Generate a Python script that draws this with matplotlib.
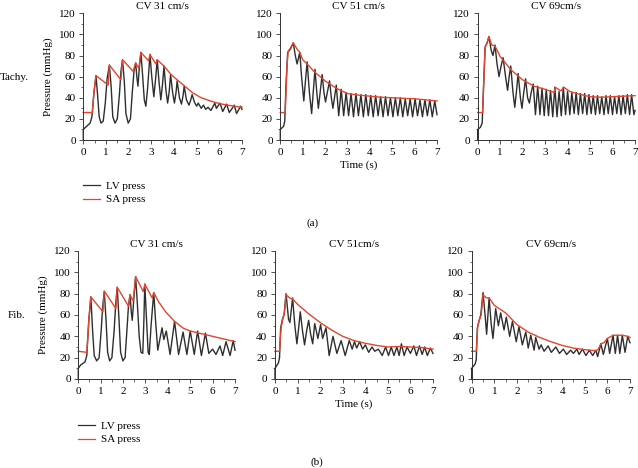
import matplotlib
matplotlib.use('Agg')
import matplotlib.pyplot as plt
from matplotlib.ticker import MultipleLocator
from matplotlib.lines import Line2D

plt.rcParams['font.family'] = ['Liberation Serif', 'DejaVu Serif']
plt.rcParams['font.size'] = 8

# (time s, pressure mmHg)
tachy31_lv = [(0, 0), (0, 10), (0.1, 12), (0.3, 16), (0.38, 22), (0.47, 45), (0.56, 61), (0.64, 40),
              (0.7, 22), (0.78, 16), (0.88, 18), (0.97, 35), (1.05, 58), (1.15, 71), (1.23, 50),
              (1.3, 22), (1.4, 16), (1.5, 20), (1.6, 45), (1.66, 65), (1.73, 76), (1.81, 55),
              (1.88, 25), (1.98, 16), (2.08, 20), (2.16, 45), (2.24, 66), (2.31, 73), (2.36, 60),
              (2.41, 51), (2.47, 68), (2.54, 83), (2.62, 60), (2.69, 38), (2.76, 32), (2.84, 50),
              (2.94, 81), (3.02, 60), (3.11, 41), (3.19, 58), (3.26, 76), (3.34, 55), (3.42, 38),
              (3.49, 52), (3.56, 70), (3.64, 48), (3.72, 35), (3.79, 46), (3.85, 62), (3.94, 45),
              (4.02, 35), (4.09, 45), (4.14, 56), (4.24, 40), (4.33, 34), (4.4, 42), (4.45, 51),
              (4.55, 38), (4.66, 33), (4.74, 38), (4.8, 43), (4.9, 36), (5.0, 32), (5.07, 35),
              (5.2, 30), (5.3, 33), (5.4, 29), (5.5, 31), (5.63, 28), (5.8, 35), (5.87, 30),
              (6.03, 35), (6.15, 27), (6.32, 34), (6.44, 26), (6.66, 33), (6.76, 25), (6.94, 32),
              (7.0, 29)]
tachy31_sa = [(0, 26), (0.4, 26), (0.47, 45), (0.56, 61), (1.1, 52), (1.15, 71), (1.66, 57),
              (1.73, 76), (2.2, 65), (2.31, 73), (2.45, 68), (2.54, 83), (2.88, 75), (2.94, 81),
              (3.2, 72), (3.26, 76), (3.56, 70), (3.85, 62.5), (4.14, 57), (4.45, 51.5), (4.8, 45),
              (5.2, 40), (5.6, 37), (6.0, 34.5), (6.5, 32.5), (7.0, 31)]

tachy51_lv = [(0, 0), (0, 10), (0.15, 13), (0.2, 18), (0.25, 50), (0.33, 83), (0.45, 86), (0.58, 92),
              (0.67, 80), (0.75, 72), (0.87, 83), (0.95, 60), (1.05, 37), (1.12, 55), (1.2, 74),
              (1.3, 45), (1.4, 25), (1.47, 45), (1.55, 67), (1.63, 45), (1.7, 30), (1.78, 45),
              (1.87, 62), (1.95, 45), (2.02, 36), (2.1, 45), (2.2, 56), (2.28, 40), (2.35, 30),
              (2.42, 40), (2.5, 52), (2.61, 23), (2.72, 48), (2.83, 23), (2.94, 45), (3.05, 23),
              (3.16, 44), (3.27, 22), (3.38, 44), (3.49, 23), (3.60, 43), (3.71, 22), (3.82, 43),
              (3.93, 23), (4.04, 42), (4.15, 22), (4.26, 42), (4.37, 23), (4.48, 41), (4.59, 22),
              (4.70, 41), (4.81, 23), (4.92, 40), (5.03, 22), (5.14, 40), (5.25, 23), (5.36, 40),
              (5.47, 22), (5.58, 39), (5.69, 23), (5.80, 39), (5.91, 22), (6.02, 39), (6.13, 23),
              (6.24, 38), (6.35, 22), (6.46, 38), (6.57, 23), (6.68, 38), (6.79, 22), (6.90, 37),
              (7.0, 24)]
tachy51_sa = [(0, 26), (0.22, 26), (0.3, 70), (0.35, 84), (0.45, 87), (0.58, 92), (0.75, 86),
              (0.87, 83), (1.0, 76), (1.2, 72), (1.5, 65), (2.0, 56), (2.5, 49), (3.0, 44),
              (3.5, 42.5), (4.0, 41.5), (4.5, 40.5), (5.0, 40), (5.5, 39.5), (6.0, 39), (6.5, 38),
              (7.0, 37)]

tachy69_lv = [(0, 0), (0, 10), (0.12, 12), (0.2, 16), (0.25, 45), (0.33, 88), (0.42, 92), (0.5, 98),
              (0.6, 85), (0.68, 80), (0.77, 90), (0.86, 72), (0.95, 60), (1.04, 70), (1.13, 78),
              (1.24, 60), (1.33, 47), (1.4, 60), (1.47, 70), (1.57, 45), (1.65, 31), (1.72, 45),
              (1.8, 63), (1.9, 40), (1.97, 30), (2.05, 45), (2.13, 58), (2.22, 40), (2.3, 35),
              (2.38, 45), (2.47, 53), (2.57, 24), (2.67, 51), (2.77, 24), (2.86, 49), (2.96, 23),
              (3.05, 48), (3.15, 23), (3.24, 47), (3.34, 22), (3.43, 50), (3.53, 22), (3.62, 46),
              (3.72, 23), (3.81, 50), (3.91, 24), (4.0, 46), (4.1, 24), (4.19, 45), (4.29, 25),
              (4.38, 45), (4.48, 24), (4.57, 44), (4.67, 25), (4.76, 44), (4.86, 24), (4.95, 43),
              (5.05, 25), (5.14, 42), (5.24, 24), (5.33, 42), (5.43, 25), (5.52, 41), (5.62, 24),
              (5.71, 42), (5.81, 25), (5.9, 42), (6.0, 24), (6.09, 41), (6.19, 25), (6.28, 42),
              (6.38, 24), (6.47, 42), (6.57, 25), (6.66, 43), (6.76, 24), (6.85, 43), (6.95, 24),
              (7.0, 28)]
tachy69_sa = [(0, 26), (0.22, 26), (0.28, 60), (0.33, 88), (0.42, 92), (0.5, 98), (0.62, 90),
              (0.77, 89), (1.0, 79), (1.5, 66), (2.0, 57), (2.5, 51), (3.0, 48), (3.4, 45),
              (3.45, 50), (3.7, 46.5), (3.83, 50), (4.1, 46), (4.5, 43.5), (5.0, 41), (5.5, 40.5),
              (6.0, 41), (6.5, 41.5), (7.0, 42)]

fib31_lv = [(0, 0), (0, 10), (0.1, 13), (0.3, 16), (0.38, 22), (0.47, 55), (0.56, 77), (0.64, 45),
            (0.71, 22), (0.82, 17), (0.93, 20), (1.02, 45), (1.09, 68), (1.16, 82), (1.24, 55),
            (1.31, 25), (1.4, 17), (1.5, 20), (1.6, 45), (1.67, 70), (1.74, 86), (1.82, 55),
            (1.89, 25), (1.99, 17), (2.09, 20), (2.17, 45), (2.24, 68), (2.31, 79), (2.37, 62),
            (2.41, 55), (2.48, 75), (2.56, 96), (2.64, 70), (2.72, 40), (2.8, 25), (2.88, 24),
            (2.93, 55), (2.97, 89), (3.05, 55), (3.12, 25), (3.17, 23), (3.25, 50), (3.37, 81),
            (3.45, 55), (3.55, 27), (3.74, 48), (3.82, 37), (3.93, 45), (4.1, 23), (4.3, 54),
            (4.48, 23), (4.68, 44), (4.85, 23), (5.0, 45), (5.18, 23), (5.33, 45), (5.5, 22),
            (5.68, 43), (5.83, 24), (6.0, 28), (6.15, 23), (6.33, 31), (6.45, 22), (6.6, 35),
            (6.78, 22), (6.92, 36), (7.0, 27)]
fib31_sa = [(0, 26), (0.38, 25), (0.47, 55), (0.56, 77), (1.1, 63), (1.16, 82.5), (1.68, 66),
            (1.74, 86), (2.25, 68), (2.31, 79), (2.45, 73), (2.56, 96), (2.9, 82), (2.97, 89),
            (3.3, 76), (3.37, 81), (3.6, 72), (3.9, 63), (4.3, 54), (4.7, 47.5), (5.0, 45),
            (5.5, 42.5), (6.0, 40), (6.5, 37.5), (7.0, 35)]

fib51_lv = [(0, 0), (0, 10), (0.15, 15), (0.2, 20), (0.25, 48), (0.33, 56), (0.4, 60), (0.49, 80),
            (0.6, 56), (0.66, 53), (0.78, 76), (0.88, 50), (0.97, 33), (1.05, 48), (1.12, 63),
            (1.22, 45), (1.31, 32), (1.4, 45), (1.49, 55), (1.58, 42), (1.67, 33), (1.76, 52),
            (1.9, 38), (2.02, 51), (2.11, 38), (2.26, 48), (2.4, 22), (2.57, 40), (2.74, 24),
            (2.93, 36), (3.11, 22), (3.29, 36), (3.42, 28), (3.52, 35), (3.62, 29), (3.75, 35),
            (3.88, 28), (4.0, 32), (4.15, 25), (4.3, 30), (4.42, 26), (4.58, 28), (4.75, 22),
            (4.9, 30), (5.03, 22), (5.15, 30), (5.27, 22), (5.4, 30), (5.5, 22), (5.6, 33),
            (5.72, 22), (5.85, 30), (6.0, 24), (6.15, 31), (6.27, 22), (6.4, 31), (6.52, 23),
            (6.63, 30), (6.75, 22), (6.88, 29), (7.0, 24)]
fib51_sa = [(0, 26), (0.2, 26), (0.27, 48), (0.35, 57), (0.42, 62), (0.49, 79), (0.65, 76),
            (0.78, 75), (1.0, 70), (1.5, 61), (2.0, 53), (2.5, 46), (3.0, 40), (3.5, 36),
            (4.0, 33.5), (4.5, 31.5), (5.0, 30), (5.5, 30.5), (6.0, 30), (6.5, 29.5), (7.0, 28)]

fib69_lv = [(0, 0), (0, 10), (0.15, 14), (0.2, 18), (0.25, 48), (0.33, 55), (0.4, 60), (0.5, 81),
            (0.6, 58), (0.66, 42), (0.77, 76), (0.86, 52), (0.94, 38), (1.06, 66), (1.18, 50),
            (1.28, 62), (1.43, 46), (1.53, 58), (1.68, 40), (1.8, 54), (1.97, 35), (2.09, 49),
            (2.24, 32), (2.39, 44), (2.5, 29), (2.61, 41), (2.76, 27), (2.83, 39), (2.98, 28),
            (3.07, 32), (3.2, 26), (3.38, 31), (3.52, 25), (3.72, 30), (3.88, 24), (4.05, 28),
            (4.2, 23), (4.37, 27), (4.5, 24), (4.65, 28), (4.75, 23), (4.9, 28), (5.05, 22),
            (5.2, 27), (5.35, 22), (5.49, 27), (5.57, 21), (5.71, 33), (5.82, 23), (6.0, 38),
            (6.1, 24), (6.25, 41), (6.35, 24), (6.45, 41), (6.55, 24), (6.66, 41), (6.78, 25),
            (6.9, 40), (7.0, 34)]
fib69_sa = [(0, 26), (0.2, 26), (0.27, 50), (0.35, 56), (0.42, 60), (0.5, 79), (0.65, 76),
            (0.77, 76), (1.0, 69), (1.5, 62), (2.0, 51), (2.5, 44), (3.0, 39), (3.5, 35),
            (4.0, 31.5), (4.5, 29), (5.0, 27.5), (5.5, 26.5), (5.6, 28), (5.71, 33), (5.85, 34),
            (6.0, 38), (6.25, 41), (6.45, 41), (6.66, 41), (6.9, 40), (7.0, 39)]

titles_a = ['CV 31 cm/s', 'CV 51 cm/s', 'CV 69cm/s']
titles_b = ['CV 31 cm/s', 'CV 51cm/s', 'CV 69cm/s']

lv_color = '#2e2e2e'
sa_color = '#e4452c'

W, H = 638.0, 468.0


def px_rect(x0, x1, ytop, ybot):
    return [x0 / W, 1 - ybot / H, (x1 - x0) / W, (ybot - ytop) / H]


def draw_panel(rect, lv, sa, title, ylab=False, xlab=False):
    ax = fig.add_axes(rect)
    ax.plot([p[0] for p in lv], [p[1] for p in lv], color=lv_color, lw=1.0,
            solid_joinstyle='round', clip_on=False)
    ax.plot([p[0] for p in sa], [p[1] for p in sa], color=sa_color, lw=1.0,
            solid_joinstyle='round', clip_on=False)
    ax.set_xlim(0, 7)
    ax.set_ylim(0, 120)
    ax.xaxis.set_major_locator(MultipleLocator(1))
    ax.xaxis.set_minor_locator(MultipleLocator(0.5))
    ax.yaxis.set_major_locator(MultipleLocator(20))
    ax.yaxis.set_minor_locator(MultipleLocator(10))
    ax.spines['top'].set_visible(False)
    ax.spines['right'].set_visible(False)
    for s in ['left', 'bottom']:
        ax.spines[s].set_linewidth(0.7)
        ax.spines[s].set_color('#333333')
    ax.tick_params(which='major', length=3, width=0.6, pad=2.5, labelsize=8, color='#333333')
    ax.tick_params(which='minor', length=1.8, width=0.5, color='#333333')
    ax.set_title(title, fontsize=8, pad=3)
    if ylab:
        ax.set_ylabel('Pressure (mmHg)', fontsize=8, labelpad=4)
    if xlab:
        ax.set_xlabel('Time (s)', fontsize=8, labelpad=3)
    return ax


fig = plt.figure(figsize=(6.38, 4.68), dpi=100)

# row (a)
row_a = [(83.3, 242), (280.3, 437), (477.7, 635)]
data_a = [(tachy31_lv, tachy31_sa), (tachy51_lv, tachy51_sa), (tachy69_lv, tachy69_sa)]
for i in range(3):
    draw_panel(px_rect(row_a[i][0], row_a[i][1], 13.3, 140), data_a[i][0], data_a[i][1],
               titles_a[i], ylab=(i == 0), xlab=(i == 1))

# row (b)
row_b = [(78.3, 235), (275, 433), (471.7, 630)]
data_b = [(fib31_lv, fib31_sa), (fib51_lv, fib51_sa), (fib69_lv, fib69_sa)]
for i in range(3):
    draw_panel(px_rect(row_b[i][0], row_b[i][1], 251, 379), data_b[i][0], data_b[i][1],
               titles_b[i], ylab=(i == 0), xlab=(i == 1))

handles = [Line2D([], [], color=lv_color, lw=0.9), Line2D([], [], color=sa_color, lw=0.9)]
for x0, y0 in [(83, 181), (78, 421)]:
    fig.legend(handles, ['LV press', 'SA press'], loc='upper left',
               bbox_to_anchor=(x0 / W, 1 - y0 / H), frameon=False, fontsize=8,
               handlelength=1.5, handletextpad=0.6, labelspacing=0.35,
               borderpad=0, borderaxespad=0)

fig.text(14 / W, 1 - 77 / H, 'Tachy.', ha='center', va='center', fontsize=8)
fig.text(16.5 / W, 1 - 315 / H, 'Fib.', ha='center', va='center', fontsize=8)
fig.text(313 / W, 1 - 223 / H, '(a)', ha='center', va='center', fontsize=8)
fig.text(317 / W, 1 - 462 / H, '(b)', ha='center', va='center', fontsize=8)

fig.savefig('out.png', dpi=100)
plt.close('all')
